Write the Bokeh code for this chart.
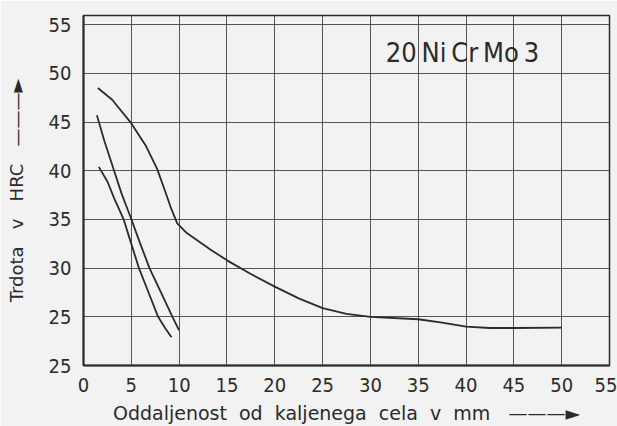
from bokeh.plotting import figure
from bokeh.models import FixedTicker, Range1d, Label
from bokeh.embed import file_html
from bokeh.resources import INLINE

# distance from quenched end (mm) and hardness (HRC)
top_x = [1.5, 3.0, 4.9, 6.5, 7.7, 8.5, 9.1, 9.8, 10.8, 13.3, 15, 17.5, 20, 22.5, 25, 27.5, 30, 35, 37.5, 40, 42.5, 45, 50]
top_y = [48.5, 47.3, 45.0, 42.6, 40.2, 38.0, 36.3, 34.6, 33.6, 31.9, 30.8, 29.4, 28.1, 26.9, 25.9, 25.3, 25.0, 24.75, 24.4, 24.0, 23.85, 23.85, 23.9]
mid_x = [1.4, 2.2, 3.2, 4.0, 4.9, 5.9, 6.9, 8.1, 9.3, 10.0]
mid_y = [45.7, 43.0, 40.0, 37.6, 35.3, 32.6, 30.0, 27.5, 25.0, 23.6]
low_x = [1.6, 2.5, 3.2, 4.2, 4.9, 5.8, 6.8, 7.8, 8.5, 9.2]
low_y = [40.4, 38.9, 37.2, 35.0, 32.8, 30.0, 27.5, 25.0, 23.9, 22.9]

x_ticks = [0, 5, 10, 15, 20, 25, 30, 35, 40, 45, 50, 55]
y_ticks = [20, 25, 30, 35, 40, 45, 50, 55]
y_tick_labels = {20: "25", 25: "25", 30: "30", 35: "35", 40: "40", 45: "45", 50: "50", 55: "55"}
NB = "\u00a0"
steel_label = "20\u2009Ni\u2009Cr\u2009Mo\u20093"
x_title = NB.join(["Oddaljenost", "", "od", "", "kaljenega", "", "cela", "", "v", "", "mm", "", "", "———►"])
y_title = NB.join(["Trdota", "", "", "v", "", "", "HRC", "", "", "———►"])

INK = "#2b2b2b"
BG = "#f2f2f2"
NARROW = "Liberation Sans Narrow, DejaVu Sans Condensed, DejaVu Sans"
WIDE = "DejaVu Sans"

p = figure(width=617, height=426, output_backend="svg", toolbar_location=None,
           x_range=Range1d(0, 55), y_range=Range1d(20, 55.95),
           min_border_left=83, min_border_right=8, min_border_top=15, min_border_bottom=61)
p.background_fill_color = BG
p.border_fill_color = BG
p.outline_line_color = INK
p.outline_line_width = 1.5

for ax in (p.xaxis[0], p.yaxis[0]):
    ax.axis_line_color = INK
    ax.axis_line_width = 2
    ax.major_tick_line_color = None
    ax.minor_tick_line_color = None
    ax.major_label_text_font = NARROW
    ax.major_label_text_font_size = "20px"
    ax.major_label_text_color = INK
    ax.axis_label_text_font = WIDE
    ax.axis_label_text_font_style = "normal"
    ax.axis_label_text_color = INK

p.xaxis.axis_label_text_font_size = "19px"
p.yaxis.axis_label_text_font_size = "18px"
p.xaxis.ticker = FixedTicker(ticks=x_ticks)
p.yaxis.ticker = FixedTicker(ticks=y_ticks)
p.yaxis.major_label_overrides = y_tick_labels
p.xaxis.major_label_standoff = 6
p.yaxis.major_label_standoff = 6
p.xaxis.axis_label = x_title
p.yaxis.axis_label = y_title
p.xaxis.axis_label_standoff = 7
p.yaxis.axis_label_standoff = 19

p.xgrid.ticker = FixedTicker(ticks=x_ticks)
p.ygrid.ticker = FixedTicker(ticks=y_ticks)
for g in (p.xgrid[0], p.ygrid[0]):
    g.grid_line_color = "#3a3a3a"
    g.grid_line_width = 1
    g.grid_line_alpha = 0.85

for xs, ys in ((top_x, top_y), (mid_x, mid_y), (low_x, low_y)):
    p.line(xs, ys, line_color=INK, line_width=1.8)

p.add_layout(Label(x=31.6, y=52.1, text=steel_label, text_font=NARROW,
                   text_font_size="27px", text_color=INK,
                   text_baseline="middle", text_align="left"))

open("out.html", "w").write(file_html(p, INLINE))
